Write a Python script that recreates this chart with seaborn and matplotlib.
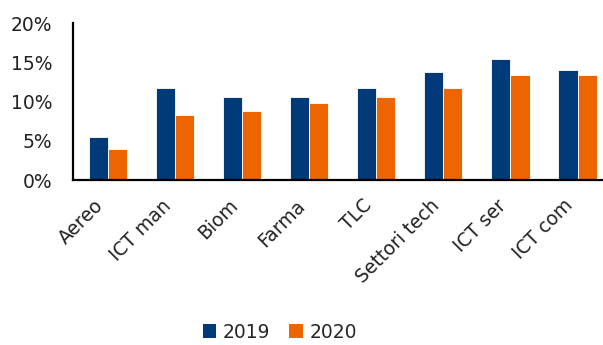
import matplotlib
matplotlib.use("Agg")
import matplotlib.pyplot as plt
import matplotlib.transforms as mtrans
import seaborn as sns
import pandas as pd
from matplotlib.ticker import FuncFormatter
from matplotlib.patches import Patch

categories = ["Aereo", "ICT man", "Biom", "Farma", "TLC", "Settori tech", "ICT ser", "ICT com"]
values_2019 = [5.5, 11.7, 10.6, 10.6, 11.7, 13.75, 15.5, 14.0]
values_2020 = [4.0, 8.3, 8.85, 9.9, 10.6, 11.7, 13.45, 13.45]
series = ["2019", "2020"]
colors = ["#003A78", "#EC6500"]

df = pd.DataFrame({
    "cat": categories * 2,
    "val": values_2019 + values_2020,
    "year": ["2019"] * len(categories) + ["2020"] * len(categories),
})

sns.set_theme(style="white")
plt.rcParams["font.family"] = ["DejaVu Sans"]

fig = plt.figure(figsize=(6.03, 3.45), dpi=100)
ax = fig.add_axes([73 / 603, 1 - 180 / 345, 530 / 603, (180 - 23.5) / 345])

sns.barplot(data=df, x="cat", y="val", hue="year", palette=colors, width=0.57,
            ax=ax, legend=False, edgecolor="white", linewidth=0.6, saturation=1)

ax.set_ylim(0, 20)
ax.set_xlim(-0.52, 7.38)
ax.set_yticks([0, 5, 10, 15, 20])
ax.yaxis.set_major_formatter(FuncFormatter(lambda v, p: f"{int(v)}%"))
ax.set_xlabel("")
ax.set_ylabel("")
ax.tick_params(axis="both", length=0, labelsize=13.5, colors="#222222")
ax.tick_params(axis="y", pad=15)
ax.tick_params(axis="x", pad=10)
offset = mtrans.ScaledTranslation(-14 / 100, -2 / 100, fig.dpi_scale_trans)
for lab in ax.get_xticklabels():
    lab.set_rotation(45)
    lab.set_ha("right")
    lab.set_rotation_mode("anchor")
    lab.set_transform(lab.get_transform() + offset)
for s in ["top", "right"]:
    ax.spines[s].set_visible(False)
for s in ["left", "bottom"]:
    ax.spines[s].set_color("black")
    ax.spines[s].set_linewidth(1.6)

handles = [Patch(facecolor=c, edgecolor="none") for c in colors]
fig.legend(handles, series, loc="center", bbox_to_anchor=(280 / 603, 1 - 332 / 345),
           ncol=2, frameon=False, fontsize=13.5, handlelength=0.7, handleheight=0.8,
           columnspacing=1.0, handletextpad=0.4, borderpad=0.1)

fig.savefig("out.png", dpi=100)
